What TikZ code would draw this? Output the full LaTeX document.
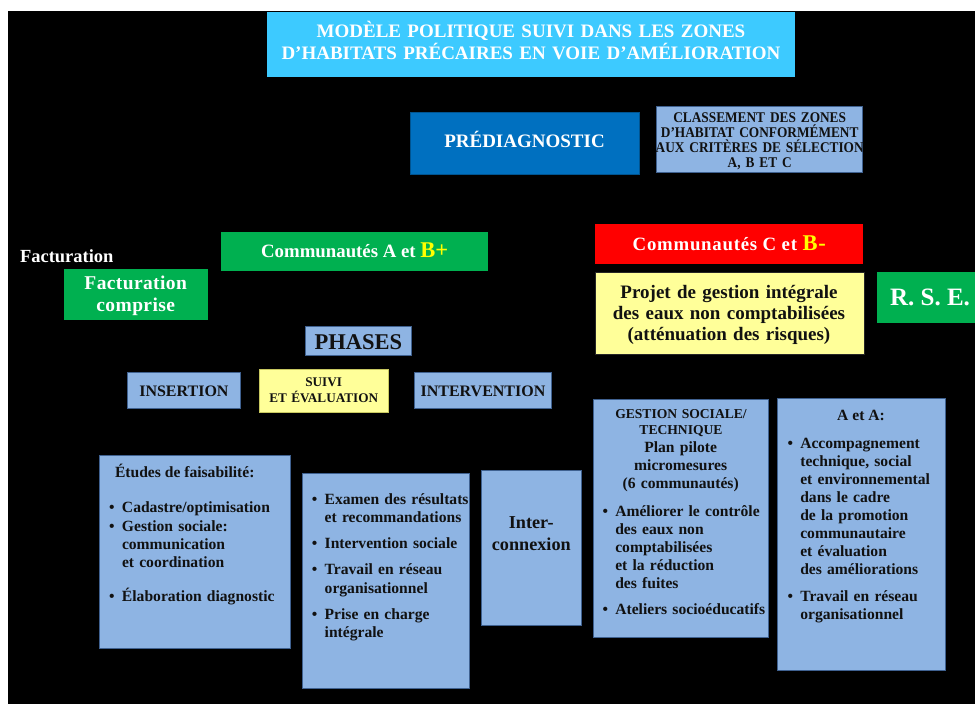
\documentclass[tikz,border=0pt]{standalone}
\usepackage{fontspec}
\setmainfont{Liberation Serif}
\newfontfamily\condser[FakeStretch=0.9]{Liberation Serif}
\definecolor{titlecyan}{HTML}{3DCAFF}
\definecolor{prediag}{HTML}{0070C0}
\definecolor{lblue}{HTML}{8EB4E3}
\definecolor{lbord}{HTML}{3F6190}
\definecolor{vgreen}{HTML}{00B050}
\definecolor{vred}{HTML}{FF0000}
\definecolor{lyellow}{HTML}{FFFF99}
\definecolor{ybord}{HTML}{C8C860}
\definecolor{byellow}{HTML}{FFFF00}
\definecolor{ink}{HTML}{111111}
\newlength\bind
\setlength\bind{12.8pt}
\newcommand\bitem[1]{\par\noindent\makebox[\bind][l]{\textbullet}#1}
\newcommand\bcont[1]{\par\noindent\hspace*{\bind}#1}
\newcommand\bskip[1]{\par\vspace{#1}}
\newcommand\tst{\rule{0pt}{24pt}}
\newcommand\fs[2]{\fontsize{#1}{#2}\selectfont}
\tikzset{
  box/.style={anchor=north west, inner sep=0pt, outer sep=0pt, line width=0.8pt},
  bluebox/.style={box, fill=lblue, draw=lbord},
  greenbox/.style={box, fill=vgreen},
  txt/.style={inner sep=0pt, outer sep=0pt, text=ink},
  wtxt/.style={inner sep=0pt, outer sep=0pt, text=white},
  body/.style={font=\bfseries\fs{15.6}{#1}},
  list/.style={txt, anchor=north west, text width=180pt, align=left, body=#1},
}
\begin{document}
\begin{tikzpicture}[x=1pt,y=-1pt]
\useasboundingbox (0,0) rectangle (975,704);
\fill[white] (0,0) rectangle (975,704);
\fill[black] (8,11) rectangle (975,704);

% title
\node[box, fill=titlecyan, minimum width=528pt, minimum height=65pt] (titlebox) at (267,12) {};
\node[wtxt, anchor=north, text width=520pt, align=center, font=\bfseries\fs{19}{22}] (titletext) at (531,13.3)
  {\tst MODÈLE POLITIQUE SUIVI DANS LES ZONES\\D’HABITATS PRÉCAIRES EN VOIE D’AMÉLIORATION};

% prediagnostic
\node[box, fill=prediag, draw=prediag!75!black, minimum width=229pt, minimum height=61.7pt] (prebox) at (410,112.5) {};
\node[wtxt, anchor=base, font=\bfseries\fs{19}{22}] (pretext) at (524.5,147.7) {PRÉDIAGNOSTIC};

% classement
\node[bluebox, minimum width=206pt, minimum height=66pt] (clbox) at (656.7,106.7) {};
\node[txt, anchor=north, text width=210pt, align=center, font=\condser\bfseries\fs{14.8}{15.1}] (cltext) at (759.7,98.3)
  {\tst CLASSEMENT DES ZONES\\D’HABITAT CONFORMÉMENT\\AUX CRITÈRES DE SÉLECTION\\A, B ET C};

% facturation
\node[wtxt, anchor=base west, font=\bfseries\fs{18.5}{22}] (factlabel) at (20,262.3) {Facturation};
\node[greenbox, minimum width=144pt, minimum height=51pt] (factbox) at (63.7,269.3) {};
\node[wtxt, anchor=north, text width=140pt, align=center, font=\bfseries\fs{19.5}{22}\addfontfeatures{LetterSpace=2}] (facttext) at (135.7,265)
  {\tst Facturation\\comprise};

% communautes A et B+
\node[greenbox, minimum width=267.3pt, minimum height=38.7pt] (cabox) at (221,232) {};
\node[wtxt, anchor=base, font=\bfseries\fs{18.8}{22}] (catext) at (354.7,257.3)
  {Communautés A et {\fs{22.5}{24}\color{byellow}B+}};

% communautes C et B-
\node[box, fill=vred, minimum width=267.4pt, minimum height=39.7pt] (ccbox) at (595.3,224.3) {};
\node[wtxt, anchor=base, font=\bfseries\fs{18.8}{22}\addfontfeatures{LetterSpace=4}] (cctext) at (729.3,250)
  {Communautés C et {\fs{22.5}{24}\color{byellow}B-}};

% projet
\node[box, fill=lyellow, draw=black!85, minimum width=268.7pt, minimum height=82pt] (pjbox) at (595.3,272.3) {};
\node[txt, anchor=north, text width=265pt, align=center, font=\bfseries\fs{19}{20.65}] (pjtext) at (729,274.7)
  {\tst Projet de gestion intégrale\\des eaux non comptabilisées\\(atténuation des risques)};

% RSE
\node[greenbox, minimum width=98pt, minimum height=50.4pt] (rsebox) at (877,272.3) {};
\node[wtxt, anchor=base, font=\bfseries\fs{25}{28}] (rsetext) at (930,305) {R. S. E.};

% phases
\node[bluebox, minimum width=106.4pt, minimum height=29.4pt] (phbox) at (305.3,326.3) {};
\node[txt, anchor=base, font=\bfseries\fs{22.5}{26}] (phtext) at (358.3,349.3) {PHASES};

\node[bluebox, minimum width=113.7pt, minimum height=36pt] (insbox) at (127,372.7) {};
\node[txt, anchor=base, font=\bfseries\fs{16}{19}] (instext) at (183.9,396) {INSERTION};

\node[box, fill=lyellow, draw=ybord, minimum width=129.3pt, minimum height=43pt] (suibox) at (259,369.3) {};
\node[txt, anchor=north, text width=125pt, align=center, font=\bfseries\fs{13.2}{16}] (suitext) at (323.7,362.7)
  {\tst SUIVI\\ET ÉVALUATION};

\node[bluebox, minimum width=136.6pt, minimum height=36pt] (intbox) at (414.7,372.7) {};
\node[txt, anchor=base, font=\bfseries\fs{16}{19}] (inttext) at (483,396) {INTERVENTION};

% etudes
\node[bluebox, minimum width=190.7pt, minimum height=193pt] (etbox) at (99.3,455.7) {};
\node[txt, anchor=base west, body=18.3] (ethead) at (115,477) {Études de faisabilité:};
\node[list=18.3] (etlist) at (109.2,487.7) {%
  \bitem{\tst Cadastre/optimisation}
  \bitem{Gestion sociale:}
  \bcont{communication}
  \bcont{et coordination}
  \bskip{15.8pt}
  \bitem{Élaboration diagnostic}\par};

% examen
\node[bluebox, minimum width=167.3pt, minimum height=215.4pt] (exbox) at (302,473.3) {};
\node[list=18.5] (exlist) at (311.9,479.3) {%
  \bitem{\tst Examen des résultats}
  \bcont{et recommandations}
  \bskip{7.4pt}
  \bitem{Intervention sociale}
  \bskip{7.4pt}
  \bitem{Travail en réseau}
  \bcont{organisationnel}
  \bskip{7.4pt}
  \bitem{Prise en charge}
  \bcont{intégrale}\par};

% interconnexion
\node[bluebox, minimum width=100.7pt, minimum height=155.3pt] (icbox) at (481,470) {};
\node[txt, anchor=north, text width=98pt, align=center, font=\bfseries\fs{18.2}{21.7}] (ictext) at (531.3,504.3)
  {\tst Inter-\\connexion};

% gestion sociale
\node[bluebox, minimum width=175pt, minimum height=238pt] (gsbox) at (593.3,399.3) {};
\node[txt, anchor=north, text width=170pt, align=center, font=\bfseries\fs{13.6}{15.6}] (gshead) at (681,394.7)
  {\tst GESTION SOCIALE/\\TECHNIQUE};
\node[txt, anchor=north, text width=170pt, align=center, body=18.2] (gssub) at (680.7,428)
  {\tst Plan pilote\\micromesures\\(6 communautés)};
\node[list=18.1] (gslist) at (602.5,491) {%
  \bitem{\tst Améliorer le contrôle}
  \bcont{des eaux non}
  \bcont{comptabilisées}
  \bcont{et la réduction}
  \bcont{des fuites}
  \bskip{7.9pt}
  \bitem{Ateliers socioéducatifs}\par};

% A et A
\node[bluebox, minimum width=167.3pt, minimum height=271.7pt] (aabox) at (777.7,398.3) {};
\node[txt, anchor=base, body=18.05] (aahead) at (861,420.7) {A et A:};
\node[list=18.05] (aalist) at (787.5,423.3) {%
  \bitem{\tst Accompagnement}
  \bcont{technique, social}
  \bcont{et environnemental}
  \bcont{dans le cadre}
  \bcont{de la promotion}
  \bcont{communautaire}
  \bcont{et évaluation}
  \bcont{des améliorations}
  \bskip{9pt}
  \bitem{Travail en réseau}
  \bcont{organisationnel}\par};
\end{tikzpicture}
\end{document}
